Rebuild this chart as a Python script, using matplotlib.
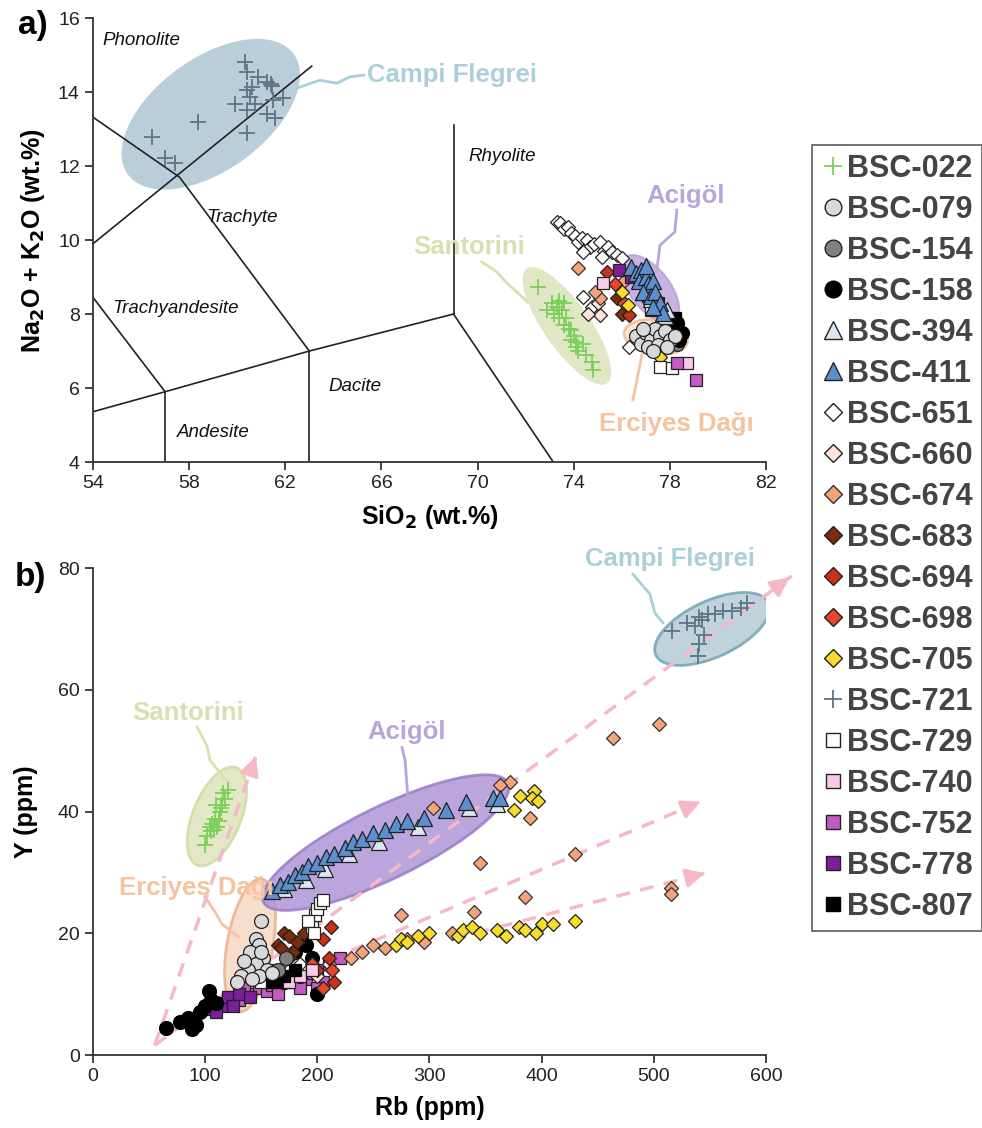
import numpy as np
import matplotlib
matplotlib.use("Agg")
import matplotlib.pyplot as plt
import matplotlib.transforms as mtransforms
from matplotlib.patches import Ellipse
from matplotlib.lines import Line2D

plt.rcParams['font.family'] = ['Liberation Sans', 'DejaVu Sans']
DPI = 100

# ---------------- data: panel a (SiO2, Na2O+K2O) ----------------
a_022_x = [72.5, 72.9, 73.1, 73.2, 73.3, 73.4, 73.4, 73.5, 73.6, 73.6, 73.7, 73.8, 73.9, 73.9, 74.0, 74.1, 74.1, 74.2, 74.4, 74.5, 74.75, 74.8]
a_022_y = [8.73, 8.1, 8.3, 8.0, 8.2, 8.35, 7.9, 8.1, 8.3, 7.7, 7.9, 7.6, 7.57, 7.3, 7.4, 7.1, 7.25, 7.0, 7.2, 6.9, 6.7, 6.5]
a_721_x = [60.32, 60.39, 60.88, 61.22, 61.39, 61.43, 60.60, 60.39, 60.53, 59.91, 60.74, 60.39, 61.22, 61.57, 61.92, 61.50, 58.38, 60.39, 56.44, 57.0, 57.41]
a_721_y = [14.82, 14.55, 14.41, 14.28, 14.23, 14.16, 14.14, 14.05, 13.87, 13.69, 13.69, 13.51, 13.42, 13.29, 13.83, 13.78, 13.20, 12.88, 12.79, 12.21, 12.07]
a_651_x = [73.3, 73.45, 73.6, 73.75, 73.9, 74.05, 74.17, 74.35, 74.55, 74.67, 74.85, 75.09, 75.25, 75.43, 75.59, 75.8, 76.0, 75.17, 74.38, 74.4, 74.75, 76.3]
a_651_y = [10.5, 10.45, 10.3, 10.35, 10.2, 10.1, 9.95, 10.05, 10.0, 9.81, 9.9, 9.95, 9.7, 9.81, 9.68, 9.6, 9.51, 9.54, 9.68, 8.46, 8.19, 7.11]
a_660_x = [75.1, 75.0, 74.6]
a_660_y = [7.97, 8.3, 8.0]
a_674_x = [74.2, 75.1, 74.9, 76.1]
a_674_y = [9.24, 8.43, 8.6, 8.9]
a_683_x = [75.8, 76.0]
a_683_y = [8.43, 8.0]
a_694_x = [75.4, 76.3]
a_694_y = [9.14, 7.97]
a_698_x = [75.7, 76.1]
a_698_y = [8.8, 8.3]
a_705_x = [76.0, 76.25, 77.6]
a_705_y = [8.6, 8.24, 6.84]
a_729_x = [77.6, 78.1, 77.8, 77.2]
a_729_y = [6.57, 6.54, 7.9, 8.1]
a_740_x = [75.2, 78.7]
a_740_y = [8.84, 6.68]
a_752_x = [78.3, 79.1, 77.9]
a_752_y = [6.68, 6.22, 7.7]
a_778_x = [75.9, 76.4, 76.8, 77.1, 77.5]
a_778_y = [9.19, 9.0, 8.9, 8.5, 8.3]
a_807_x = [78.2, 77.9]
a_807_y = [7.9, 7.5]
a_394_x = [77.5, 77.2, 77.8, 76.9, 77.9]
a_394_y = [8.19, 8.4, 7.95, 8.6, 8.1]
a_411_x = [76.4, 76.6, 76.8, 76.7, 77.0, 77.1, 77.3, 76.9, 77.2, 77.4, 77.6, 77.7, 77.0, 77.3]
a_411_y = [9.27, 9.1, 9.2, 8.9, 9.0, 8.8, 8.9, 8.6, 8.5, 8.6, 8.3, 8.03, 9.3, 8.2]
a_079_x = [76.6, 76.8, 77.0, 77.2, 77.4, 77.6, 77.8, 78.0, 78.2, 77.1, 77.5, 77.9, 77.3, 76.9]
a_079_y = [7.4, 7.2, 7.5, 7.3, 7.6, 7.4, 7.55, 7.3, 7.4, 7.1, 7.15, 7.1, 7.0, 7.6]
a_154_x = [78.1, 78.3]
a_154_y = [7.7, 7.2]
a_158_x = [78.3, 78.4, 78.5]
a_158_y = [7.76, 7.3, 7.5]

# ---------------- data: panel b (Rb, Y) ----------------
b_022_x = [100, 102, 104, 105, 106, 108, 109, 110, 111, 112, 113, 114, 115, 116, 118, 120]
b_022_y = [34.5, 36, 37.5, 36.8, 38, 37, 38.8, 41, 37.5, 38.5, 40, 40.5, 41, 43, 42, 43.5]
b_079_x = [150, 145, 148, 140, 152, 145, 138, 155, 132, 148, 160, 142, 128, 135, 150]
b_079_y = [22, 19, 18, 17, 16, 15, 14, 14, 13, 13, 13.5, 12.5, 12, 15.5, 17]
b_154_x = [165, 172]
b_154_y = [14, 16]
b_158_x = [65, 78, 85, 88, 92, 95, 100, 103, 105, 110, 190, 195, 200, 185, 170, 180]
b_158_y = [4.5, 5.5, 6, 4.2, 5.0, 7, 8, 10.5, 9, 8.5, 18, 16, 10, 13, 12, 17]
b_394_x = [170, 190, 207, 228, 255, 290, 335, 360]
b_394_y = [27.2, 28.8, 30.5, 33, 35, 37.5, 40.5, 41.2]
b_411_x = [160, 167, 174, 180, 186, 192, 200, 208, 215, 225, 232, 240, 250, 260, 270, 280, 295, 315, 333, 357, 363]
b_411_y = [27, 28, 28.5, 29.5, 30, 31, 31.5, 32.5, 33, 34, 35, 35.5, 36.5, 37, 38, 38.5, 39, 40.2, 41.5, 42.3, 42.3]
b_651_x = [175, 185, 160]
b_651_y = [14, 15, 12]
b_660_x = [200, 210]
b_660_y = [13, 15]
b_674_x = [464, 505, 372, 363, 303, 390, 515, 515, 430, 345, 385, 340, 275, 250, 260, 280, 295, 240, 320, 230]
b_674_y = [52, 54.3, 44.8, 44.3, 40.5, 38.9, 27.5, 26.5, 33, 31.5, 26, 23.5, 23, 18, 17.5, 19, 18.5, 17, 20, 16]
b_683_x = [165, 170, 175, 178, 182, 188, 175, 168]
b_683_y = [18, 20, 19.5, 17, 18.5, 20, 16, 17.5]
b_694_x = [205, 212, 210, 200, 215]
b_694_y = [19, 21, 16, 14, 12]
b_698_x = [195, 205, 213]
b_698_y = [15, 11, 14]
b_705_x = [381, 393, 391, 397, 375, 270, 275, 280, 290, 300, 325, 330, 338, 345, 360, 368, 380, 385, 400, 410, 430, 395]
b_705_y = [42.6, 43.4, 42.3, 41.8, 40.2, 18, 19, 18.5, 19.5, 20, 19.5, 20.5, 21, 20, 20.5, 19.5, 21, 20.5, 21.5, 21.5, 22, 20]
b_721_x = [516, 583, 539, 530, 540, 548, 543, 537, 555, 562, 570, 578, 545, 540]
b_721_y = [69.7, 74.3, 65.6, 71, 72, 72.5, 71.5, 70.5, 72.5, 73, 73, 73.5, 69, 67.5]
b_729_x = [195, 198, 200, 202, 205, 192, 197, 150, 160]
b_729_y = [21, 23, 24, 25, 25.5, 22, 20, 12, 14]
b_740_x = [175, 185, 195]
b_740_y = [12, 13, 14]
b_752_x = [110, 118, 125, 130, 140, 148, 155, 160, 170, 180, 190, 195, 200, 210, 220, 135, 165, 185, 205, 150, 175, 200]
b_752_y = [8, 8.5, 9.5, 9, 10, 11, 10.5, 11.5, 12, 12, 12.5, 13.5, 14, 15, 16, 11, 10, 11, 12, 12.5, 13, 11]
b_778_x = [105, 115, 120, 130, 140, 110, 125]
b_778_y = [7.5, 8, 9.5, 10, 9.5, 7, 8]
b_807_x = [160, 170, 180]
b_807_y = [12, 13, 14]

# trend arrows in panel b: (start Rb, start Y, end Rb, end Y)
arrows_b = [(55, 1.6, 146, 49.5), (55, 1.6, 623, 78.7), (190, 14, 544, 41.8), (320, 19, 548, 30)]

# sample styles (marker, face, edge)
styles = {
    'BSC-022': ('+', '#7ccf5a', '#6cc84a'),
    'BSC-079': ('o', '#d9d9d9', '#222222'),
    'BSC-154': ('o', '#7f7f7f', '#222222'),
    'BSC-158': ('o', '#000000', '#000000'),
    'BSC-394': ('^', '#dce6f2', '#222222'),
    'BSC-411': ('^', '#5b8fd0', '#222222'),
    'BSC-651': ('D', '#ffffff', '#222222'),
    'BSC-660': ('D', '#fde3d8', '#222222'),
    'BSC-674': ('D', '#f4a37a', '#333333'),
    'BSC-683': ('D', '#7f2a0c', '#222222'),
    'BSC-694': ('D', '#c8321a', '#222222'),
    'BSC-698': ('D', '#e8452a', '#222222'),
    'BSC-705': ('D', '#f7dc2a', '#222222'),
    'BSC-721': ('+', '#5d7387', '#5d7387'),
    'BSC-729': ('s', '#ffffff', '#222222'),
    'BSC-740': ('s', '#f9c9ea', '#222222'),
    'BSC-752': ('s', '#c45ac4', '#222222'),
    'BSC-778': ('s', '#7b1f9a', '#222222'),
    'BSC-807': ('s', '#000000', '#000000'),
}
sizes = {'+': 11, 'o': 10, '^': 11, 'D': 7.5, 's': 8.5}

series_a = {
    'BSC-651': (a_651_x, a_651_y), 'BSC-660': (a_660_x, a_660_y), 'BSC-674': (a_674_x, a_674_y),
    'BSC-683': (a_683_x, a_683_y), 'BSC-694': (a_694_x, a_694_y), 'BSC-698': (a_698_x, a_698_y),
    'BSC-705': (a_705_x, a_705_y), 'BSC-729': (a_729_x, a_729_y), 'BSC-740': (a_740_x, a_740_y),
    'BSC-752': (a_752_x, a_752_y), 'BSC-778': (a_778_x, a_778_y), 'BSC-807': (a_807_x, a_807_y),
    'BSC-154': (a_154_x, a_154_y), 'BSC-158': (a_158_x, a_158_y), 'BSC-394': (a_394_x, a_394_y),
    'BSC-411': (a_411_x, a_411_y), 'BSC-079': (a_079_x, a_079_y),
    'BSC-022': (a_022_x, a_022_y), 'BSC-721': (a_721_x, a_721_y),
}
series_b = {
    'BSC-752': (b_752_x, b_752_y), 'BSC-778': (b_778_x, b_778_y), 'BSC-158': (b_158_x, b_158_y),
    'BSC-651': (b_651_x, b_651_y), 'BSC-660': (b_660_x, b_660_y), 'BSC-683': (b_683_x, b_683_y),
    'BSC-694': (b_694_x, b_694_y), 'BSC-698': (b_698_x, b_698_y), 'BSC-729': (b_729_x, b_729_y),
    'BSC-740': (b_740_x, b_740_y), 'BSC-807': (b_807_x, b_807_y), 'BSC-154': (b_154_x, b_154_y),
    'BSC-079': (b_079_x, b_079_y), 'BSC-674': (b_674_x, b_674_y), 'BSC-705': (b_705_x, b_705_y),
    'BSC-394': (b_394_x, b_394_y), 'BSC-411': (b_411_x, b_411_y),
    'BSC-022': (b_022_x, b_022_y), 'BSC-721': (b_721_x, b_721_y),
}

fig = plt.figure(figsize=(9.82, 11.28), dpi=DPI)
ax_a = fig.add_axes([0.0947, 0.5904, 0.6853, 0.3936])
ax_b = fig.add_axes([0.0947, 0.0647, 0.6853, 0.4317])


def blob(ax, cx, cy, w, h, ang, fc, ec, alpha=0.85, lw=2):
    # ellipse sized in pixels, centred on a data point
    tr = fig.dpi_scale_trans + mtransforms.ScaledTranslation(cx, cy, ax.transData)
    e = Ellipse((0, 0), w / DPI, h / DPI, angle=ang, transform=tr, fc=fc, ec=ec,
                lw=lw, alpha=alpha, zorder=1)
    ax.add_patch(e)


def tag(ax, text, tx, ty, path, color, ha='center'):
    px, py = zip(*path)
    ax.plot(px, py, color=color, lw=2, zorder=1, clip_on=False)
    ax.text(tx, ty, text, color=color, fontsize=18.5, fontweight='bold', ha=ha,
            va='center', zorder=6, clip_on=False)


def style_axes(ax):
    for s in ['top', 'right']:
        ax.spines[s].set_visible(False)
    for s in ['left', 'bottom']:
        ax.spines[s].set_linewidth(1.3)
        ax.spines[s].set_color('#333333')
    ax.tick_params(direction='out', length=6, width=1.3, labelsize=14, colors='#333333',
                   labelcolor='#222222')


def draw_series(ax, series):
    for name, (xs, ys) in series.items():
        m, fc, ec = styles[name]
        if m == '+':
            ax.plot(xs, ys, ls='none', marker='+', ms=sizes[m], mew=1.3, color=fc, zorder=4)
        else:
            ax.plot(xs, ys, ls='none', marker=m, ms=sizes[m], mfc=fc, mec=ec, mew=0.9, zorder=3)


# ---------------- panel a ----------------
ax = ax_a
ax.set_xlim(54, 82)
ax.set_ylim(4, 16)
ax.set_xticks(np.arange(54, 83, 4))
ax.set_yticks(np.arange(4, 17, 2))
style_axes(ax)

tas_lines = [
    ([54, 57.6, 63], [13.32, 11.7, 7]),
    ([54, 63.1], [9.9, 14.7]),
    ([54, 57], [8.45, 5.9]),
    ([54, 57, 63, 69], [5.36, 5.9, 7, 8]),
    ([57, 57], [4, 5.9]),
    ([63, 63], [4, 7]),
    ([69, 69], [8, 13.1]),
    ([69, 73.15], [8, 4]),
]
for xs, ys in tas_lines:
    ax.plot(xs, ys, color='#222222', lw=1.2, zorder=2)

for txt, x, y in [('Phonolite', 54.4, 15.4), ('Trachyte', 58.7, 10.6), ('Rhyolite', 69.6, 12.25),
                  ('Trachyandesite', 54.8, 8.15), ('Dacite', 63.8, 6.05), ('Andesite', 57.5, 4.8)]:
    ax.text(x, y, txt, fontsize=13.5, style='italic', ha='left', va='center', color='#111111')

blob(ax, 58.9, 13.4, 205, 112, 36, '#b3c9d5', 'none', alpha=0.9)
blob(ax, 73.72, 7.68, 140, 46, -55, '#dde5bf', 'none', alpha=0.9)
blob(ax, 77.17, 8.68, 80, 40, -52, '#b89ad8', '#b89ad8', alpha=0.75, lw=1.5)
blob(ax, 77.42, 7.38, 64, 34, -8, '#f7e0cf', '#f0b88f', alpha=0.8, lw=2)

draw_series(ax, series_a)

tag(ax, 'Campi Flegrei', 65.4, 14.46,
    [(62.5, 14.11), (63.44, 14.32), (64.15, 14.24), (64.69, 14.41), (65.27, 14.46)], '#a9d0d9', ha='left')
tag(ax, 'Santorini', 69.64, 9.81,
    [(70.18, 9.41), (70.80, 9.14), (71.22, 8.84), (71.55, 8.65), (72.09, 8.32)], '#d6e1b3')
tag(ax, 'Acigöl', 78.67, 11.19,
    [(78.29, 10.81), (78.21, 10.22), (77.59, 9.86), (77.46, 9.19)], '#b9a5da')
tag(ax, 'Erciyes Dağı', 78.25, 5.03,
    [(76.88, 7.03), (76.67, 6.35), (76.46, 5.68)], '#f4c3a1')

ax.set_xlabel('SiO$_\\mathbf{2}$ (wt.%)', fontsize=18, fontweight='bold', labelpad=8)
ax.set_ylabel('Na$_\\mathbf{2}$O + K$_\\mathbf{2}$O (wt.%)', fontsize=18, fontweight='bold', labelpad=8)
fig.text(0.033, 0.977, 'a)', fontsize=24, fontweight='bold', ha='center', va='center')

# ---------------- panel b ----------------
ax = ax_b
ax.set_xlim(0, 600)
ax.set_ylim(0, 80)
ax.set_xticks(np.arange(0, 601, 100))
ax.set_yticks(np.arange(0, 81, 20))
style_axes(ax)

blob(ax, 110.5, 39.2, 105, 48, 68, '#dfe6c0', '#d3dca6', alpha=0.9)
blob(ax, 140, 18, 135, 46, 80, '#f6d8c2', '#eeb08a', alpha=0.85)
blob(ax, 261, 34.9, 272, 72, 26, '#b095d8', '#9a7cc8', alpha=0.85)
blob(ax, 552, 70, 124, 56, 25, '#b9cdd7', '#76aab3', alpha=0.9)

for x0, y0, x1, y1 in arrows_b:
    ax.plot([x0, x1], [y0, y1], ls=(0, (4, 3)), color='#f5b8c6', lw=2.5, zorder=2, clip_on=False)
    ax.annotate('', xy=(x1, y1), xytext=(x1 - 0.03 * (x1 - x0), y1 - 0.03 * (y1 - y0)),
                arrowprops=dict(arrowstyle='-|>', color='#f5b8c6', lw=2.5, mutation_scale=28),
                annotation_clip=False, zorder=2)

draw_series(ax, series_b)

tag(ax, 'Santorini', 84.7, 56.2,
    [(92.7, 53.9), (101.6, 50.8), (104.3, 48.4), (113.2, 46.4), (120.4, 44.8)], '#d6e1b3')
tag(ax, 'Acigöl', 280, 53.1,
    [(275.5, 50.5), (278.2, 48.4), (280.8, 42.3), (282.6, 39.3)], '#b9a5da')
tag(ax, 'Campi Flegrei', 514.4, 81.5,
    [(481.4, 79.0), (496.6, 75.7), (501, 72.6), (508.2, 71.0)], '#a9d0d9')
tag(ax, 'Erciyes Dağı', 92, 27.5,
    [(99.8, 26.0), (108.8, 23.5), (115, 21.5), (129.3, 19.5)], '#f4c3a1')

ax.set_xlabel('Rb (ppm)', fontsize=18, fontweight='bold', labelpad=8)
ax.set_ylabel('Y (ppm)', fontsize=18, fontweight='bold', labelpad=14)
fig.text(0.031, 0.488, 'b)', fontsize=24, fontweight='bold', ha='center', va='center')

# ---------------- legend ----------------
handles = []
for name, (m, fc, ec) in styles.items():
    if m == '+':
        h = Line2D([], [], ls='none', marker='+', ms=13, mew=1.3, color=fc)
    else:
        h = Line2D([], [], ls='none', marker=m, ms=sizes[m] + 2, mfc=fc, mec=ec, mew=1.0)
    handles.append(h)
leg = fig.legend(handles, list(styles.keys()), loc='upper left',
                 bbox_to_anchor=(812 / 982, 1 - 145 / 1128), frameon=True, fancybox=False,
                 edgecolor='#333333', handlelength=0.75, handletextpad=0.1, labelspacing=0.36,
                 borderpad=0.3, borderaxespad=0, prop={'size': 22, 'weight': 'bold'})
leg.get_frame().set_linewidth(1.2)
for t in leg.get_texts():
    t.set_color('#444444')

fig.savefig('out.png', dpi=DPI)
